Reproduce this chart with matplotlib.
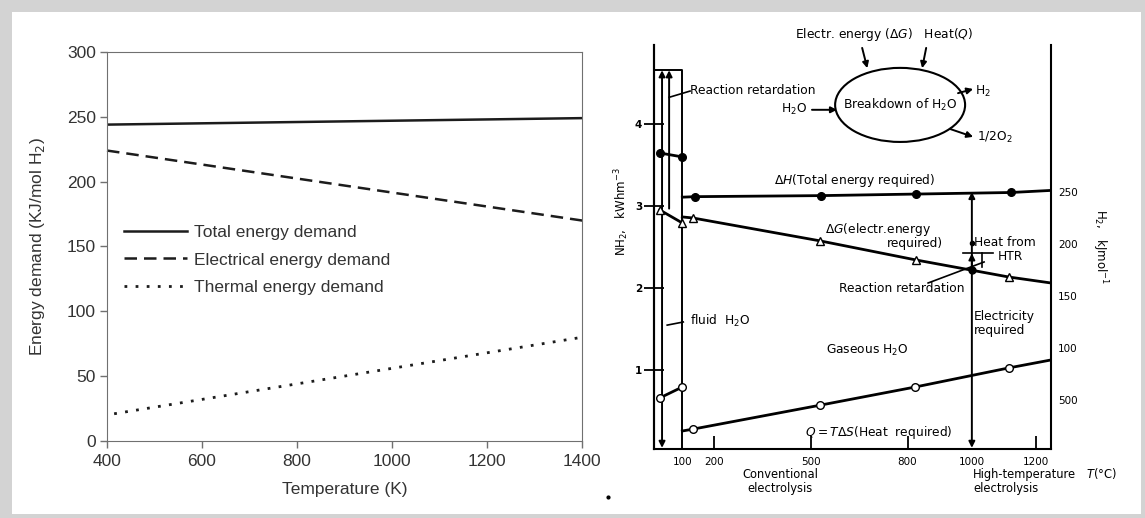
import matplotlib.pyplot as plt
from matplotlib.patches import Ellipse, Rectangle
from matplotlib.lines import Line2D

W, H = 1145, 518

# ---- left panel data (K, kJ/mol H2) ----
temp_k = [400, 1400]
total_demand = [244, 249]
elec_temp_k = [400, 1410]
elec_demand = [224, 169.5]
therm_temp_k = [415, 1400]
therm_demand = [21, 80]
left_xticks = [400, 600, 800, 1000, 1200, 1400]
left_yticks = [0, 50, 100, 150, 200, 250, 300]

# ---- right panel data (T in degC, energy in kJ/mol) ----
liq_T = [30, 100]
dH_liq = [287.5, 283.7]
dG_liq = [232.7, 220.2]
Q_liq = [52, 62.5]
dH_gas_T = [100, 140, 531, 827, 1122, 1246]
dH_gas = [245, 245.5, 246.5, 248, 249.5, 251.5]
dG_gas_T = [100, 133, 528, 827, 1114, 1246]
dG_gas = [226, 225, 203, 184.6, 168.3, 162.5]
Q_gas_T = [100, 133, 528, 824, 1114, 1246]
Q_gas = [20.2, 22, 45, 62.5, 80.8, 88.5]
retard_T, retard_E = 1000, 175
right_xtick_vals = [100, 200, 500, 800, 1000, 1200]
right_xtick_marks = [200, 500, 800, 1200]
kj_ticks = [50, 100, 150, 200, 250]
kj_labels = ['500', '100', '150', '200', '250']
kwh_ticks = [1, 2, 3, 4]
KJ_PER_KWH = 78.8


def px_rect(left, top, right, bottom):
    return [left / W, 1 - bottom / H, (right - left) / W, (bottom - top) / H]


plt.rcParams['font.family'] = ['DejaVu Sans']
plt.rcParams['mathtext.fontset'] = 'dejavusans'

fig = plt.figure(figsize=(W / 100, H / 100), dpi=100)
fig.patch.set_facecolor('#d3d3d3')
fig.add_artist(Rectangle((12 / W, 1 - 514 / H), (1141 - 12) / W, (514 - 12) / H,
                         transform=fig.transFigure, fc='white', ec='none', zorder=-1))

# ================= left panel =================
LF = 'Liberation Sans'
ax1 = fig.add_axes(px_rect(107, 52, 582, 441))
line_c = '#1c1c1c'
ax1.plot(temp_k, total_demand, color=line_c, lw=1.8, label='Total energy demand')
ax1.plot(elec_temp_k, elec_demand, color=line_c, lw=1.8, ls=(0, (5, 2.8)),
         clip_on=False, label='Electrical energy demand')
ax1.plot(therm_temp_k, therm_demand, color=line_c, lw=2, ls=(0, (1, 3)),
         label='Thermal energy demand')
ax1.set_xlim(400, 1400)
ax1.set_ylim(0, 300)
ax1.set_xticks(left_xticks, labels=[str(v) for v in left_xticks], fontfamily=LF, fontsize=12.5)
ax1.set_yticks(left_yticks, labels=[str(v) for v in left_yticks], fontfamily=LF, fontsize=12.5)
for s in ax1.spines.values():
    s.set_color('#707070')
ax1.tick_params(colors='#707070', labelcolor='#333333', length=5, width=1)
ax1.tick_params(axis='x', pad=4)
ax1.tick_params(axis='y', pad=3)
ax1.set_xlabel('Temperature (K)', fontfamily=LF, fontsize=12.5, color='#333333', labelpad=10)
ax1.set_ylabel('Energy demand (KJ/mol H$_2$)', fontfamily=LF, fontsize=12.5,
               color='#333333', labelpad=14)
leg = ax1.legend(loc='upper left', bbox_to_anchor=(0.036, 0.556), frameon=False,
                 prop={'family': LF, 'size': 12.5}, handlelength=3.6,
                 handletextpad=0.45, labelspacing=0.72, borderpad=0, borderaxespad=0)
for t in leg.get_texts():
    t.set_color('#333333')

# ================= right panel =================
ax2 = fig.add_axes(px_rect(654, 45, 1051, 449))
ax2.set_facecolor('none')
ax2.set_xlim(12, 1246)
ax2.set_ylim(2.9, 391.3)
ax2.spines['top'].set_visible(False)
for s in ax2.spines.values():
    s.set_linewidth(1.5)

k = 'black'
lw = 2.0
# liquid water branch
ax2.plot(liq_T, dH_liq, color=k, lw=lw, marker='o', ms=5.5, mfc=k, zorder=4)
ax2.plot(liq_T, dG_liq, color=k, lw=lw, marker='^', ms=6, mfc='white', zorder=4)
ax2.plot(liq_T, Q_liq, color=k, lw=lw, marker='o', ms=5.5, mfc='white', zorder=4)
# gaseous water branch
ax2.plot(dH_gas_T, dH_gas, color=k, lw=lw, marker='o', ms=5.5, mfc=k,
         markevery=[1, 2, 3, 4], zorder=4)
ax2.plot(dG_gas_T, dG_gas, color=k, lw=lw, marker='^', ms=6, mfc='white',
         markevery=[1, 2, 3, 4], zorder=4)
ax2.plot(Q_gas_T, Q_gas, color=k, lw=lw, marker='o', ms=5.5, mfc='white',
         markevery=[1, 2, 3, 4], zorder=4)
ax2.plot([retard_T], [retard_E], 'o', color=k, ms=5, zorder=5)

# phase boundary box and vertical arrows
ax2.plot([12, 100, 100], [367, 367, 2.9], color=k, lw=1.4)
arr = dict(color=k, lw=1.4, shrinkA=0, shrinkB=0, mutation_scale=9)
ax2.annotate('', xy=(37, 367), xytext=(37, 4), arrowprops=dict(arrowstyle='<|-|>', **arr))
ax2.annotate('', xy=(59, 367), xytext=(59, 234), arrowprops=dict(arrowstyle='-|>', **arr))
ax2.annotate('', xy=(1000, 250), xytext=(1000, 4), arrowprops=dict(arrowstyle='<|-|>', **arr))
ax2.annotate('', xy=(1000, 191), xytext=(1000, retard_E), arrowprops=dict(arrowstyle='-|>', **arr))
ax2.plot([973, 1066], [191.3, 191.3], color=k, lw=1.2)
ax2.plot([1032, 1032], [191.3, 178], color=k, lw=1.2)
ax2.plot([1000], [201], 'o', color=k, ms=3)

# ticks
ax2.xaxis.remove_overlapping_locs = False
ax2.set_xticks(right_xtick_vals, labels=[str(v) for v in right_xtick_vals], fontsize=7.5)
ax2.tick_params(axis='x', which='major', length=0, pad=6)
ax2.set_xticks(right_xtick_marks, minor=True)
ax2.tick_params(axis='x', which='minor', direction='in', length=9.5, width=1.3)
ax2.yaxis.tick_right()
ax2.set_yticks(kj_ticks, labels=kj_labels, fontsize=7.5)
ax2.tick_params(axis='y', length=0, pad=5)
sec = ax2.secondary_yaxis('left', functions=(lambda e: e / KJ_PER_KWH, lambda v: v * KJ_PER_KWH))
sec.set_yticks(kwh_ticks, labels=[str(v) for v in kwh_ticks], fontsize=7.5, fontweight='bold')
sec.tick_params(direction='inout', length=15, width=1.3, pad=1)
sec.spines['left'].set_linewidth(1.5)

# schematic of the reaction
fs = 8.8
ax2.add_patch(Ellipse((777, 333.7), width=404, height=71.2, fill=False, ec=k, lw=1.5, clip_on=False))
ax2.text(777, 333.7, 'Breakdown of H$_2$O', ha='center', va='center', fontsize=fs)
ax2.text(727, 401, r'Electr. energy ($\Delta G$)   Heat($Q$)', ha='center', va='center', fontsize=fs)
ax2.annotate('', xy=(675, 369), xytext=(659, 388.5), annotation_clip=False,
             arrowprops=dict(arrowstyle='-|>', **arr))
ax2.annotate('', xy=(845.5, 369), xytext=(858, 388.5), annotation_clip=False,
             arrowprops=dict(arrowstyle='-|>', **arr))
ax2.text(488, 329, 'H$_2$O', ha='right', va='center', fontsize=fs)
ax2.annotate('', xy=(581, 329), xytext=(503, 329), arrowprops=dict(arrowstyle='-|>', **arr))
ax2.annotate('', xy=(1004, 349), xytext=(957, 345), arrowprops=dict(arrowstyle='-|>', **arr))
ax2.text(1010, 347, 'H$_2$', ha='left', va='center', fontsize=fs)
ax2.annotate('', xy=(1004, 303), xytext=(932, 310.6), arrowprops=dict(arrowstyle='-|>', **arr))
ax2.text(1016, 302, '1/2O$_2$', ha='left', va='center', fontsize=fs)

# labels inside the plot
ax2.text(124, 348, 'Reaction retardation', ha='left', va='center', fontsize=fs)
ax2.plot([59, 124], [341, 347], color=k, lw=1.2)
ax2.text(637, 261.5, r'$\Delta H$(Total energy required)', ha='center', va='center', fontsize=fs)
ax2.text(544, 213.5, r'$\Delta G$(electr.energy', ha='left', va='center', fontsize=fs)
ax2.text(911, 200, 'required)', ha='right', va='center', fontsize=fs)
ax2.text(1006, 201, 'Heat from', ha='left', va='center', fontsize=fs)
ax2.text(1082, 188, 'HTR', ha='left', va='center', fontsize=fs)
ax2.text(782, 157, 'Reaction retardation', ha='center', va='center', fontsize=fs)
ax2.plot([864, 1038], [162.5, 182.7], color=k, lw=1.2)
ax2.text(124, 126, 'fluid  H$_2$O', ha='left', va='center', fontsize=fs)
ax2.plot([53, 103], [122, 125], color=k, lw=1.2)
ax2.text(675, 98, 'Gaseous H$_2$O', ha='center', va='center', fontsize=fs)
ax2.text(1006, 124, 'Electricity\nrequired', ha='left', va='center', fontsize=fs, linespacing=1.1)
ax2.text(712, 19, r'$Q=T\Delta S$(Heat  required)', ha='center', va='center', fontsize=fs)

# axis titles and notes below
fsb = 8.3
ax2.text(404, -28, 'Conventional\nelectrolysis', ha='center', va='center', fontsize=fsb, linespacing=1.1)
ax2.text(1004, -28, 'High-temperature\nelectrolysis', ha='left', va='center', fontsize=fsb, linespacing=1.1)
ax2.text(1402, -21, '$T$(°C)', ha='center', va='center', fontsize=fsb)
fig.text(622 / W, 1 - 212 / H, 'NH$_2$,   kWhm$^{-3}$', rotation=90, ha='center', va='center', fontsize=8.5)
fig.text(1100 / W, 1 - 247 / H, 'H$_2$,   kJmol$^{-1}$', rotation=270, ha='center', va='center', fontsize=8.5)
fig.add_artist(Line2D([608 / W], [1 - 497 / H], marker='o', ms=2, color='k', transform=fig.transFigure))

fig.savefig('out.png', dpi=100)
